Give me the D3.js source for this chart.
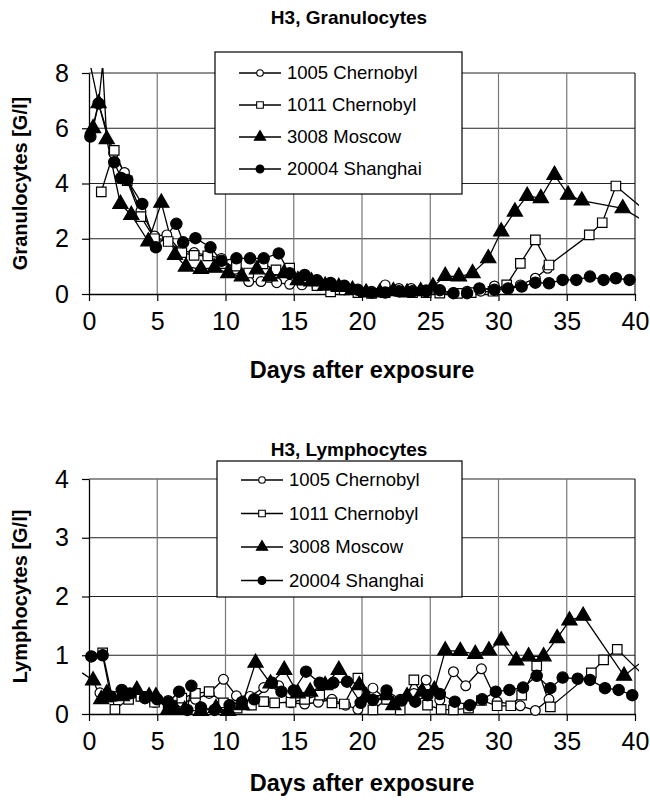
<!DOCTYPE html>
<html>
<head>
<meta charset="utf-8">
<script src="https://cdn.jsdelivr.net/npm/d3@7"></script>
<style>
  body { margin: 0; background: #fff; }
  svg { display: block; font-family: "Liberation Sans", Arial, sans-serif; }
</style>
</head>
<body>
<div id="chart"></div>
<script>
// ---- data (day, value) ----
const seriesNames = ["1005 Chernobyl", "1011 Chernobyl", "3008 Moscow", "20004 Shanghai"];
const xTickValues = [0, 5, 10, 15, 20, 25, 30, 35, 40];
const granTicks = [0, 2, 4, 6, 8];
const lymphTicks = [0, 1, 2, 3, 4];

const gran1005 = [[0.05, 8.4], [0.7, 6.9], [1.8, 5.1], [2.6, 4.4], [3.8, 3.0], [4.8, 2.1], [5.7, 2.14], [6.7, 1.57],
  [7.7, 1.5], [8.7, 1.4], [9.7, 1.29], [10.7, 0.9], [11.7, 0.45], [12.6, 0.45], [13.75, 0.41], [14.7, 0.35],
  [15.6, 0.33], [16.7, 0.3], [17.7, 0.2], [18.7, 0.15], [19.7, 0.1], [20.7, 0.1], [21.7, 0.33], [22.7, 0.2],
  [23.6, 0.2], [24.7, 0.15], [25.7, 0.1], [26.7, 0.05], [27.7, 0.1], [28.7, 0.1], [29.7, 0.29], [30.6, 0.2],
  [31.6, 0.33], [32.7, 0.57], [33.6, 0.93]];
const gran1011 = [[0.9, 3.7], [1.85, 5.2], [2.8, 4.1], [3.8, 2.8], [4.8, 2.0], [5.8, 1.9], [6.8, 1.5], [7.7, 1.4],
  [8.7, 1.38], [9.7, 1.1], [10.8, 1.01], [11.7, 0.76], [12.75, 1.09], [13.7, 0.87], [14.7, 0.94], [15.7, 0.5],
  [16.7, 0.3], [17.7, 0.08], [18.7, 0.15], [19.7, 0.05], [20.7, 0.02], [21.7, 0.05], [22.7, 0.1], [23.7, 0.05],
  [24.7, 0.05], [25.7, 0.03], [27.0, 0.02], [28.0, 0.05], [29.6, 0.1], [30.6, 0.33], [31.6, 1.11], [32.7, 1.96],
  [33.7, 1.05], [36.65, 2.14], [37.6, 2.58], [38.6, 3.91], [41.0, 2.92]];
const gran3008 = [[0.3, 6.0], [0.7, 6.9], [1.0, 8.3], [1.3, 5.6], [2.3, 3.26], [3.1, 2.86], [4.35, 1.9], [5.3, 3.3],
  [6.3, 1.41], [7.1, 0.99], [8.2, 0.9], [9.2, 0.95], [10.2, 0.75], [11.2, 0.63], [12.3, 0.89], [13.25, 0.63],
  [14.3, 0.75], [15.3, 0.5], [16.3, 0.45], [17.3, 0.3], [18.3, 0.25], [19.3, 0.15], [20.3, 0.05], [21.3, 0.05],
  [22.3, 0.1], [23.3, 0.05], [24.3, 0.1], [25.2, 0.27], [26.1, 0.65], [27.1, 0.63], [28.1, 0.75], [29.25, 1.29],
  [30.2, 2.26], [31.2, 2.98], [32.1, 3.55], [33.1, 3.47], [34.1, 4.31], [35.1, 3.59], [36.1, 3.38], [39.1, 3.1],
  [41.0, 2.55]];
const gran20004 = [[0.1, 5.7], [0.7, 6.9], [1.85, 4.77], [2.35, 4.2], [2.8, 4.13], [3.9, 3.26], [4.9, 1.69],
  [6.4, 2.54], [6.9, 1.87], [7.8, 2.02], [8.9, 1.69], [9.7, 1.2], [10.8, 1.29], [11.8, 1.29], [12.8, 1.29],
  [13.9, 1.47], [14.7, 0.75], [15.8, 0.69], [16.7, 0.5], [17.7, 0.4], [18.7, 0.3], [19.7, 0.15], [20.7, 0.05],
  [21.7, 0.05], [22.7, 0.1], [23.7, 0.1], [24.7, 0.1], [25.7, 0.14], [26.7, 0.03], [27.7, 0.03], [28.6, 0.2],
  [29.7, 0.15], [30.7, 0.2], [31.7, 0.27], [32.7, 0.41], [33.7, 0.39], [34.7, 0.51], [35.7, 0.51], [36.7, 0.63],
  [37.7, 0.51], [38.6, 0.57], [39.6, 0.51]];

const lymph1005 = [[0.8, 0.36], [1.9, 0.3], [2.9, 0.3], [3.9, 0.3], [4.8, 0.2], [5.8, 0.23], [6.8, 0.2],
  [7.8, 0.25], [8.8, 0.35], [9.85, 0.59], [10.8, 0.31], [11.8, 0.3], [12.8, 0.45], [13.9, 0.48], [14.8, 0.19],
  [15.8, 0.17], [16.8, 0.2], [17.8, 0.25], [18.8, 0.15], [19.7, 0.08], [20.8, 0.44], [21.8, 0.25], [22.8, 0.25],
  [23.8, 0.35], [24.7, 0.58], [25.7, 0.24], [26.7, 0.72], [27.6, 0.48], [28.75, 0.77], [29.9, 0.21],
  [31.6, 0.14], [32.7, 0.06], [33.7, 0.25]];
const lymph1011 = [[1.0, 1.04], [1.9, 0.08], [2.9, 0.25], [3.8, 0.3], [4.8, 0.2], [5.8, 0.15], [6.8, 0.27],
  [7.8, 0.35], [8.8, 0.38], [9.85, 0.19], [10.85, 0.1], [11.9, 0.15], [12.8, 0.21], [13.6, 0.19], [14.8, 0.2],
  [15.8, 0.25], [16.9, 0.32], [17.8, 0.19], [18.7, 0.17], [19.7, 0.61], [20.8, 0.07], [21.8, 0.25],
  [22.8, 0.07], [23.8, 0.58], [24.8, 0.15], [25.8, 0.08], [26.7, 0.07], [27.8, 0.1], [28.75, 0.23],
  [29.9, 0.14], [30.9, 0.14], [31.7, 0.32], [32.8, 0.82], [33.8, 0.12], [36.8, 0.7], [37.7, 0.92],
  [38.7, 1.1], [41.0, 0.57]];
const lymph3008 = [[-0.5, 0.7], [0.3, 0.57], [0.9, 0.25], [1.3, 0.35], [2.4, 0.3], [3.5, 0.41], [4.4, 0.3],
  [4.9, 0.3], [5.8, 0.07], [6.3, 0.08], [7.0, 0.07], [8.2, 0.05], [9.3, 0.1], [10.2, 0.05], [11.2, 0.15],
  [12.2, 0.87], [13.3, 0.52], [14.3, 0.75], [15.3, 0.35], [16.2, 0.38], [17.3, 0.49], [18.3, 0.75],
  [19.8, 0.49], [20.3, 0.3], [21.8, 0.32], [22.3, 0.15], [23.3, 0.3], [24.4, 0.38], [25.3, 0.41], [26.1, 1.08],
  [27.2, 1.07], [28.3, 1.02], [29.3, 1.08], [30.2, 1.25], [31.3, 0.91], [32.2, 0.98], [33.3, 0.98],
  [34.3, 1.29], [35.2, 1.59], [36.2, 1.67], [39.2, 0.65], [41.0, 0.98]];
const lymph20004 = [[0.17, 0.98], [1.0, 1.0], [1.6, 0.3], [2.4, 0.41], [3.0, 0.35], [4.1, 0.27], [5.0, 0.25],
  [5.8, 0.2], [6.6, 0.38], [7.2, 0.07], [7.5, 0.48], [8.2, 0.11], [9.2, 0.07], [10.3, 0.15], [11.2, 0.2],
  [12.1, 0.25], [13.4, 0.53], [14.1, 0.38], [15.0, 0.4], [15.9, 0.72], [16.9, 0.53], [17.9, 0.53],
  [18.9, 0.55], [19.9, 0.19], [20.8, 0.24], [21.8, 0.4], [22.9, 0.23], [23.9, 0.21], [24.8, 0.32],
  [25.7, 0.34], [26.8, 0.21], [27.9, 0.15], [28.8, 0.25], [29.8, 0.38], [30.8, 0.41], [31.8, 0.45],
  [32.8, 0.65], [33.8, 0.44], [34.7, 0.62], [35.8, 0.6], [36.7, 0.58], [37.8, 0.44], [38.8, 0.41],
  [39.8, 0.32]];

// ---- drawing ----
const width = 650, height = 803;
const svg = d3.select("#chart").append("svg")
  .attr("width", width)
  .attr("height", height);

// marker styles per series, same order as seriesNames
const markerStyles = [
  { symbol: d3.symbolCircle, fill: "#fff", size: 75, legendSize: 34 },
  { symbol: d3.symbolSquare, fill: "#fff", size: 90, legendSize: 44 },
  { symbol: d3.symbolTriangle, fill: "#000", size: 100, legendSize: 55 },
  { symbol: d3.symbolCircle, fill: "#000", size: 100, legendSize: 48 }
];

function drawPanel(cfg) {
  const x = d3.scaleLinear().domain([0, 40]).range([cfg.left, cfg.right]);
  const y = d3.scaleLinear().domain([0, cfg.yMax]).range([cfg.bottom, cfg.top]);
  const g = svg.append("g");

  // gridlines
  g.append("g").selectAll("line")
    .data(cfg.yTicks.filter(d => d > 0))
    .join("line")
    .attr("x1", x(0)).attr("x2", x(40))
    .attr("y1", d => y(d)).attr("y2", d => y(d))
    .attr("stroke", "#222").attr("stroke-width", 1.2);
  g.append("g").selectAll("line")
    .data(xTickValues.filter(d => d > 0))
    .join("line")
    .attr("x1", d => x(d)).attr("x2", d => x(d))
    .attr("y1", y(0)).attr("y2", y(cfg.yMax))
    .attr("stroke", d => d === 40 ? "#222" : "#777").attr("stroke-width", 1.2);

  // axes
  const xAxis = g.append("g")
    .attr("transform", `translate(0,${cfg.bottom})`)
    .call(d3.axisBottom(x).tickValues(xTickValues).tickSize(7).tickSizeOuter(0).tickPadding(11));
  const yAxis = g.append("g")
    .attr("transform", `translate(${cfg.left},0)`)
    .call(d3.axisLeft(y).tickValues(cfg.yTicks).tickFormat(d3.format("d"))
      .tickSize(7).tickSizeOuter(0).tickPadding(13));
  [xAxis, yAxis].forEach(a => {
    a.select(".domain").attr("stroke", "#000").attr("stroke-width", 1.3);
    a.selectAll(".tick line").attr("stroke", "#000").attr("stroke-width", 1.2);
    a.selectAll(".tick text")
      .attr("font-family", "'Liberation Sans', Arial, sans-serif")
      .attr("font-size", 25).attr("fill", "#000");
  });

  // titles
  svg.append("text")
    .attr("x", cfg.titleX).attr("y", cfg.titleY)
    .attr("text-anchor", "middle")
    .attr("font-weight", "bold").attr("font-size", 19)
    .text(cfg.title);
  svg.append("text")
    .attr("x", (cfg.left + cfg.right) / 2).attr("y", cfg.xTitleY)
    .attr("text-anchor", "middle")
    .attr("font-weight", "bold").attr("font-size", 23.5)
    .text("Days after exposure");
  svg.append("text")
    .attr("transform", `translate(27,${(cfg.top + cfg.bottom) / 2}) rotate(-90)`)
    .attr("text-anchor", "middle")
    .attr("font-weight", "bold").attr("font-size", 20)
    .text(cfg.yTitle);

  // data, clipped just outside the plot area like the original
  const clipId = "clip" + cfg.id;
  svg.append("clipPath").attr("id", clipId)
    .append("rect")
    .attr("x", cfg.left - 8).attr("y", cfg.top - 5)
    .attr("width", cfg.right - cfg.left + 12).attr("height", cfg.bottom - cfg.top + 15);

  const line = d3.line().x(d => x(d[0])).y(d => y(d[1]));
  const plot = g.append("g").attr("clip-path", `url(#${clipId})`);
  cfg.series.forEach(data => {
    plot.append("path")
      .datum(data)
      .attr("d", line)
      .attr("fill", "none")
      .attr("stroke", "#000")
      .attr("stroke-width", 1.3);
  });
  cfg.series.forEach((data, i) => {
    const st = markerStyles[i];
    plot.append("g").selectAll("path")
      .data(data.filter(d => d[0] >= 0 && d[0] <= 40 && d[1] <= cfg.yMax))
      .join("path")
      .attr("transform", d => `translate(${x(d[0])},${y(d[1])})`)
      .attr("d", d3.symbol().type(st.symbol).size(st.size))
      .attr("fill", st.fill)
      .attr("stroke", "#000")
      .attr("stroke-width", 1.2);
  });

  // legend
  const lg = svg.append("g").attr("transform", `translate(${cfg.legendX},${cfg.legendY})`);
  lg.append("rect")
    .attr("width", cfg.legendW).attr("height", cfg.legendH)
    .attr("fill", "#fff").attr("stroke", "#000").attr("stroke-width", 1.2);
  const rows = lg.selectAll("g.row")
    .data(seriesNames)
    .join("g")
    .attr("class", "row")
    .attr("transform", (d, i) => `translate(0,${cfg.legendRow0 + i * cfg.legendStep})`);
  rows.append("line")
    .attr("x1", 24).attr("x2", 66)
    .attr("stroke", "#000").attr("stroke-width", 1.3);
  rows.append("path")
    .attr("transform", "translate(45,0)")
    .attr("d", (d, i) => d3.symbol().type(markerStyles[i].symbol).size(markerStyles[i].legendSize)())
    .attr("fill", (d, i) => markerStyles[i].fill)
    .attr("stroke", "#000").attr("stroke-width", 1.1);
  rows.append("text")
    .attr("x", 72).attr("dy", "0.35em")
    .attr("font-size", 18.5)
    .text(d => d);
}

drawPanel({
  id: "gran", title: "H3, Granulocytes", yTitle: "Granulocytes [G/l]",
  left: 89, right: 635, top: 73, bottom: 294, yMax: 8, yTicks: granTicks,
  titleX: 349, titleY: 24, xTitleY: 378,
  legendX: 215, legendY: 52, legendW: 247, legendH: 142, legendRow0: 21, legendStep: 32,
  series: [gran1005, gran1011, gran3008, gran20004]
});
drawPanel({
  id: "lymph", title: "H3, Lymphocytes", yTitle: "Lymphocytes [G/l]",
  left: 89, right: 635, top: 479, bottom: 714, yMax: 4, yTicks: lymphTicks,
  titleX: 349, titleY: 456, xTitleY: 791,
  legendX: 217, legendY: 461, legendW: 245, legendH: 136, legendRow0: 19, legendStep: 33.5,
  series: [lymph1005, lymph1011, lymph3008, lymph20004]
});
</script>
</body>
</html>
